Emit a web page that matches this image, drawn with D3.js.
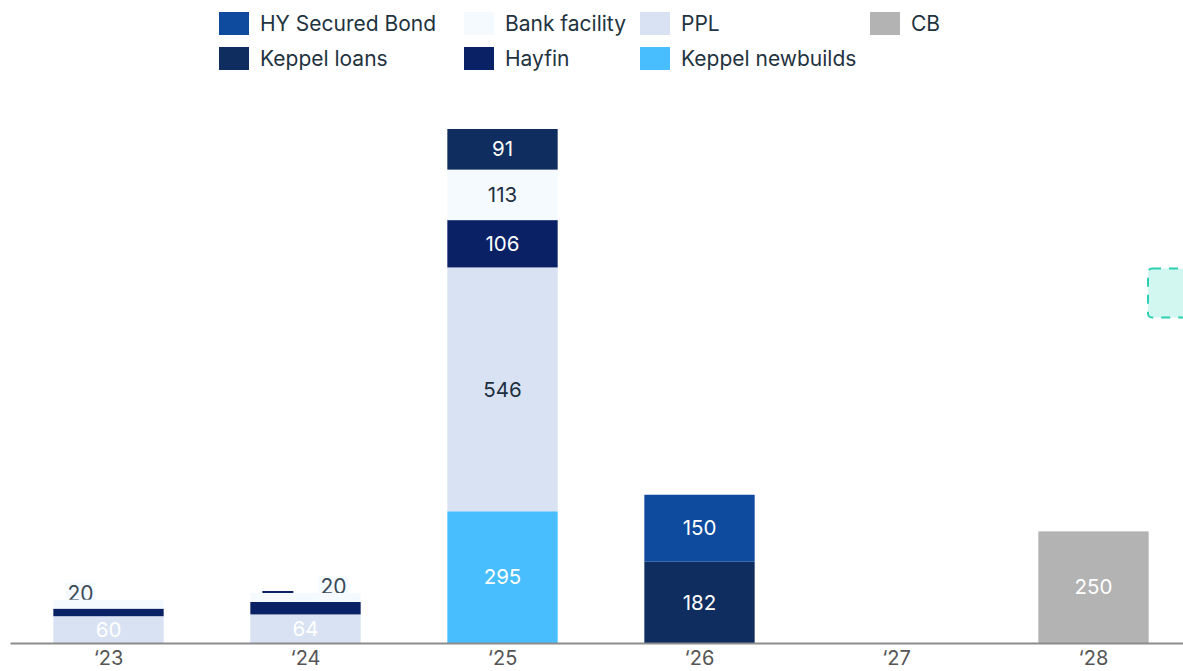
<!DOCTYPE html>
<html><head><meta charset="utf-8">
<script src="https://cdn.jsdelivr.net/npm/d3@7"></script>
<style>
html,body{margin:0;padding:0;background:#fff;}
svg{display:block;font-family:Inter, "Noto Sans", sans-serif;}
</style></head>
<body><svg id="c" width="1183" height="671"></svg>
<script>
const years = ["\u201823","\u201824","\u201825","\u201826","\u201827","\u201828"];
const seriesNames = ["Keppel newbuilds","PPL","Hayfin","Bank facility","Keppel loans","HY Secured Bond","CB"];
const keppelNewbuilds = [0,0,295,0,0,0];
const ppl = [60,64,546,0,0,0];
const hayfin = [17,28,106,0,0,0];
const bankFacility = [20,20,113,0,0,0];
const keppelLoans = [0,0,91,182,0,0];
const hySecuredBond = [0,0,0,150,0,0];
const cb = [0,0,0,0,0,250];
const legendOrder = ["HY Secured Bond","Bank facility","PPL","CB","Keppel loans","Hayfin","Keppel newbuilds"];

const colors = {
  "HY Secured Bond":"#0E4A9E",
  "Bank facility":"#F5FAFF",
  "PPL":"#D9E2F3",
  "CB":"#B3B3B3",
  "Keppel loans":"#0F2D5E",
  "Hayfin":"#0A2165",
  "Keppel newbuilds":"#48BEFE"
};
const labelColors = {
  "HY Secured Bond":"#ffffff","Bank facility":"#1D3040","PPL":"#1D3040","CB":"#ffffff",
  "Keppel loans":"#ffffff","Hayfin":"#ffffff","Keppel newbuilds":"#ffffff"
};
const valuesBySeries = {
  "Keppel newbuilds":keppelNewbuilds,"PPL":ppl,"Hayfin":hayfin,"Bank facility":bankFacility,
  "Keppel loans":keppelLoans,"HY Secured Bond":hySecuredBond,"CB":cb
};
const table = years.map((y,i)=>{const o={year:y}; seriesNames.forEach(s=>o[s]=valuesBySeries[s][i]); return o;});
const stack = d3.stack().keys(seriesNames)(table);
const maxTotal = d3.max(table, d=>d3.sum(seriesNames, s=>d[s]));

const svg = d3.select("#c");
const x = d3.scaleBand().domain(years).range([10,1192]).paddingInner(0.44).paddingOuter(0.22);
const y = d3.scaleLinear().domain([0,maxTotal]).range([643,129]);

// decorative dashed box on the right
svg.append("rect").attr("x",1148).attr("y",268.5).attr("width",50).attr("height",49).attr("rx",4)
  .attr("fill","#D2F7F0").attr("stroke","#2CCFB0").attr("stroke-width",2).attr("stroke-dasharray","9,8");

// small labels above thin bars (drawn below bars)
const smallLabels = [
  {i:0, dx:-28, val:bankFacility[0]},
  {i:1, dx:28, val:bankFacility[1]}
];
smallLabels.forEach(l=>{
  const cx = x(years[l.i]) + x.bandwidth()/2 + l.dx;
  const top = y(d3.sum(seriesNames, s=>table[l.i][s]));
  const g = svg.append("g");
  g.append("rect").attr("x",cx-15).attr("y",top-17).attr("width",30).attr("height",20).attr("fill","#F5FAFF");
  g.append("text").attr("x",cx).attr("y",top+1).attr("text-anchor","middle").attr("font-size",21)
    .attr("fill","#3A4A57").text(l.val);
});
// leader dash on '24
svg.append("line").attr("x1",x(years[1])+12).attr("x2",x(years[1])+43)
  .attr("y1",y(d3.sum(seriesNames,s=>table[1][s]))-1).attr("y2",y(d3.sum(seriesNames,s=>table[1][s]))-1)
  .attr("stroke","#0A2165").attr("stroke-width",2);

// bars
stack.forEach(layer=>{
  const key = layer.key;
  svg.append("g").selectAll("rect").data(layer.filter(d=>d[1]-d[0]>0)).join("rect")
    .attr("x",d=>x(d.data.year)).attr("width",x.bandwidth())
    .attr("y",d=>y(d[1])).attr("height",d=>y(d[0])-y(d[1]))
    .attr("fill",colors[key]);
});
// segment labels
stack.forEach(layer=>{
  const key = layer.key;
  svg.append("g").selectAll("text").data(layer.filter(d=>d[1]-d[0]>=40)).join("text")
    .attr("x",d=>x(d.data.year)+x.bandwidth()/2)
    .attr("y",d=>(y(d[0])+y(d[1]))/2)
    .attr("dy","0.35em").attr("text-anchor","middle").attr("font-size",20.5)
    .attr("fill",d=>(key==="PPL" && d[1]-d[0]<100) ? "#ffffff" : labelColors[key]).text(d=>d[1]-d[0]);
});

// axis
const axis = svg.append("g").attr("transform","translate(0,643)")
  .call(d3.axisBottom(x).tickSize(0).tickPadding(8));
axis.select(".domain").attr("stroke","#8C8C8C").attr("stroke-width",2);
axis.selectAll("text").attr("font-size",20).attr("fill","#555").attr("font-family","Inter, 'Noto Sans', sans-serif");

// legend
const legX = [219,464,640,870];
const leg = svg.append("g");
legendOrder.forEach((name,i)=>{
  const col = i<4 ? i : i-4, row = i<4 ? 0 : 1;
  const gx = legX[col], gy = 12 + row*35;
  leg.append("rect").attr("x",gx).attr("y",gy).attr("width",30).attr("height",23).attr("fill",colors[name]);
  leg.append("text").attr("x",gx+41).attr("y",gy+11.5).attr("dy","0.35em").attr("font-size",21)
    .attr("fill","#1F3340").text(name);
});
</script></body></html>
